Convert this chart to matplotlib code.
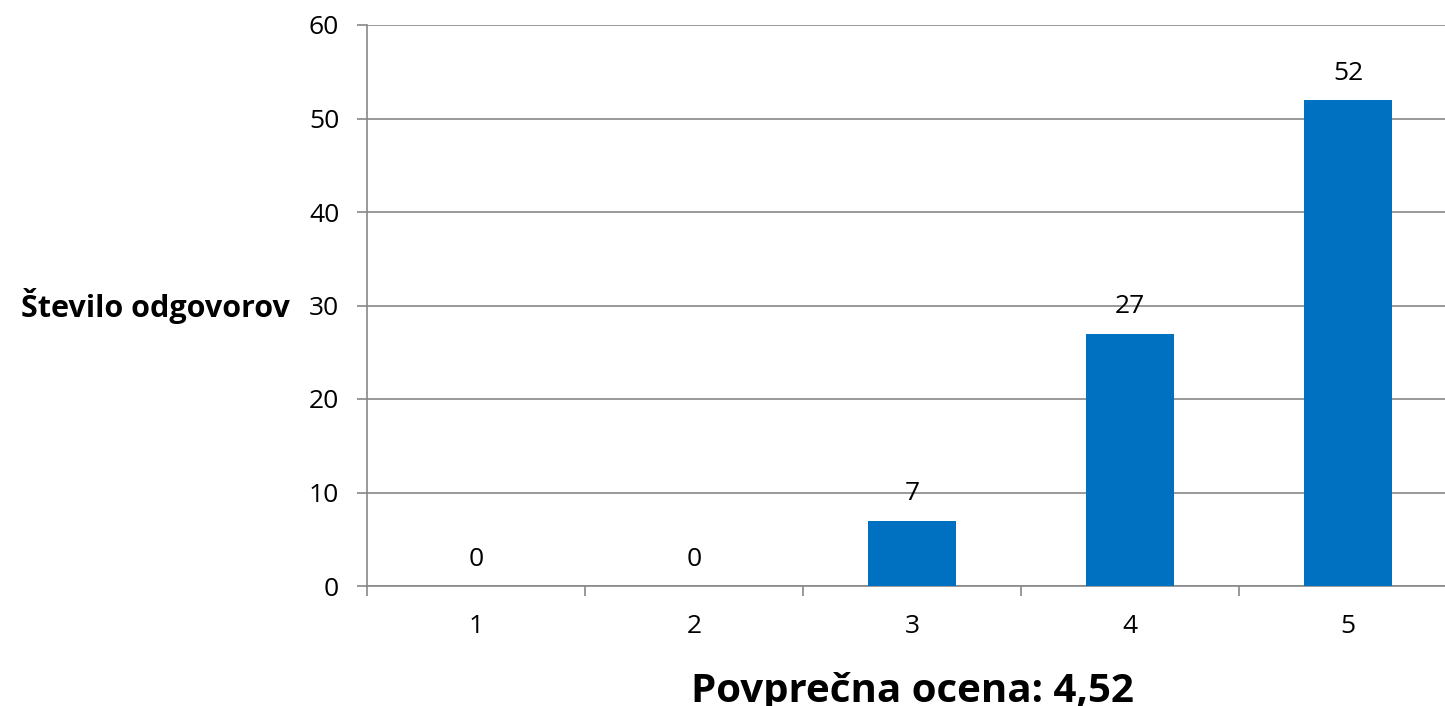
import matplotlib
matplotlib.use("Agg")
import matplotlib.pyplot as plt
import numpy as np

categories = ["1", "2", "3", "4", "5"]
values = [0, 0, 7, 27, 52]
yticks = [0, 10, 20, 30, 40, 50, 60]
ylabel = "Število odgovorov"
xlabel = "Povprečna ocena: 4,52"

plt.rcParams['font.family'] = ['Open Sans', 'DejaVu Sans']

fig = plt.figure(figsize=(14.45, 7.06), dpi=100)
ax = fig.add_axes([367/1445, 120/706, (1457-367)/1445, (586-25)/706])

x = np.arange(1, len(categories) + 1)
ax.bar(x, values, width=0.4, color='#0070C0', zorder=3)
for xi, v in zip(x, values):
    ax.annotate(str(v), (xi, v), xytext=(0, 14.5), textcoords='offset points',
                ha='center', va='baseline', fontsize=19, color='black')

ax.set_xlim(0.5, 5.5)
ax.set_ylim(0, 60)
ax.set_yticks(yticks)
ax.set_yticklabels([str(t) for t in yticks], fontsize=19)
ax.set_xticks(x)
ax.set_xticklabels(categories, fontsize=19)
ax.set_xticks(np.arange(0.5, 6.0, 1.0), minor=True)
ax.tick_params(axis='x', which='major', length=0, pad=20)
ax.tick_params(axis='x', which='minor', length=7, color='#888888', width=1.2, direction='out')
ax.tick_params(axis='y', length=7, color='#888888', width=1.2, pad=13)

ax.grid(axis='y', color='#888888', linewidth=1.2, zorder=0)
for s in ['top', 'right']:
    ax.spines[s].set_visible(False)
for s in ['left', 'bottom']:
    ax.spines[s].set_color('#888888')
    ax.spines[s].set_linewidth(1.2)

ax.set_ylabel(ylabel, rotation=0, ha='right', va='center', fontsize=22, fontweight='bold')
ax.yaxis.set_label_coords(-0.0706, 0.5)
fig.text(912/1445, (706-702)/706, xlabel, ha='center', va='baseline', fontsize=29, fontweight='bold')

fig.savefig("out.png", dpi=100)
